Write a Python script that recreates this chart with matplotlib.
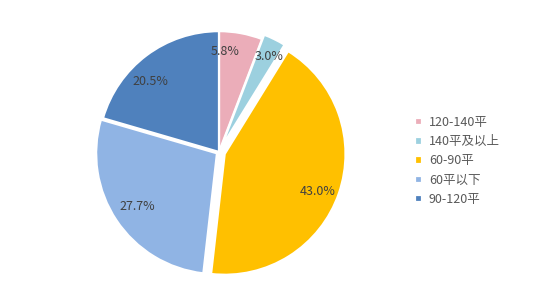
import numpy as np
import matplotlib.pyplot as plt

plt.rcParams['font.family'] = ['Noto Sans CJK SC', 'DejaVu Sans']

# data
categories = ["120-140平", "140平及以上", "60-90平", "60平以下", "90-120平"]
shares = [5.8, 3.0, 43.0, 27.7, 20.5]

colors = ["#EBADB9", "#9CD0DF", "#FFC000", "#90B4E4", "#4F81BD"]
explode = [0.0, 0.04, 0.05, 0.02, 0.0]
# label placement: radial distance and position along the wedge (0 = start, 1 = end)
label_dist = [0.83, 0.85, 0.83, 0.79, 0.81]
label_frac = [0.16, 0.62, 0.52, 0.50, 0.40]

fig = plt.figure(figsize=(5.37, 3.06), dpi=100)
ax = fig.add_axes([0.1378, 0.0294, 0.540, 0.948])

wedges, _ = ax.pie(shares, colors=colors, explode=explode, startangle=90,
                   counterclock=False, radius=1.0,
                   wedgeprops=dict(edgecolor="white", linewidth=1.6))
ax.set_xlim(-1.2, 1.2)
ax.set_ylim(-1.2, 1.2)
ax.set_aspect("equal")

for w, v, d, f, e in zip(wedges, shares, label_dist, label_frac, explode):
    # counterclock=False: theta2 is where the wedge starts going clockwise
    ang = np.deg2rad(w.theta2 - f * (w.theta2 - w.theta1))
    mid = np.deg2rad((w.theta1 + w.theta2) / 2)
    x = d * np.cos(ang) + e * np.cos(mid)
    y = d * np.sin(ang) + e * np.sin(mid)
    ax.text(x, y, f"{v:.1f}%", ha="center", va="center",
            fontsize=9, color="#404040")

leg = fig.legend(wedges, categories, loc="center left",
                 bbox_to_anchor=(0.752, 0.474), frameon=False,
                 fontsize=9, handlelength=0.55, handleheight=0.55,
                 handletextpad=0.55, labelspacing=0.5)
for t in leg.get_texts():
    t.set_color("#595959")

fig.savefig("out.png", dpi=100)
